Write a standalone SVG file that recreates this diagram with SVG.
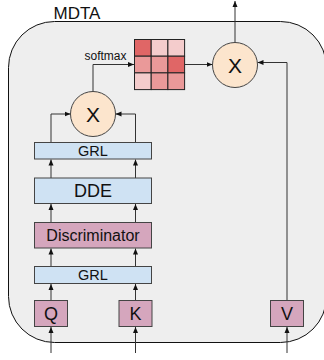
<svg xmlns="http://www.w3.org/2000/svg" width="324" height="360" viewBox="0 0 324 360">
<style>
text{font-family:"Liberation Sans",Arial,sans-serif;fill:#111;text-anchor:middle}
.box{stroke:#444;stroke-width:1}
.blue{fill:#cfe2f3}
.pink{fill:#d5a6bd}
.circ{fill:#fce5cd;stroke:#444;stroke-width:1}
.conn path{fill:none;stroke:#333;stroke-width:1}
.cell{stroke:#222;stroke-width:1}
.d{fill:#e06666}.m{fill:#ea9999}.l{fill:#f4cccc}
</style>
<defs>
<marker id="ah" markerUnits="userSpaceOnUse" markerWidth="7" markerHeight="6" refX="6" refY="3" orient="auto">
<path d="M0,0.5 L6,3 L0,5.5 z" fill="#111"/>
</marker>
</defs>
<g id="mdta">
<rect x="8.5" y="21.5" width="318" height="321" rx="46" ry="46" fill="#eeeeee" stroke="#111" stroke-width="1"/>
<text x="77" y="18.5" font-size="17">MDTA</text>
</g>
<g class="conn">
<path d="M51 353 V327" marker-end="url(#ah)"/>
<path d="M135.5 353 V327" marker-end="url(#ah)"/>
<path d="M287 353 V327" marker-end="url(#ah)"/>
<path d="M51 300.5 V284" marker-end="url(#ah)"/>
<path d="M135.5 300.5 V284" marker-end="url(#ah)"/>
<path d="M51 266.5 V248.5" marker-end="url(#ah)"/>
<path d="M135.5 266.5 V248.5" marker-end="url(#ah)"/>
<path d="M51 222.5 V204" marker-end="url(#ah)"/>
<path d="M135.5 222.5 V204" marker-end="url(#ah)"/>
<path d="M51 178 V159.5" marker-end="url(#ah)"/>
<path d="M135.5 178 V159.5" marker-end="url(#ah)"/>
<path d="M51 142.5 V114 H70.5" marker-end="url(#ah)"/>
<path d="M135.5 142.5 V114 H115.5" marker-end="url(#ah)"/>
<path d="M93 91.5 V64.5 H134" marker-end="url(#ah)"/>
<path d="M185 64.5 H212.5" marker-end="url(#ah)"/>
<path d="M287 300.5 V62.5 H257.5" marker-end="url(#ah)"/>
<path d="M235 42.5 V1" marker-end="url(#ah)"/>
<text x="105.5" y="59.5" font-size="12">softmax</text>
</g>
<g id="softmax-matrix">
<rect class="cell d" x="134.5" y="39.5" width="16.7" height="16.7"/>
<rect class="cell l" x="151.2" y="39.5" width="16.7" height="16.7"/>
<rect class="cell l" x="167.9" y="39.5" width="16.7" height="16.7"/>
<rect class="cell m" x="134.5" y="56.2" width="16.7" height="16.7"/>
<rect class="cell m" x="151.2" y="56.2" width="16.7" height="16.7"/>
<rect class="cell d" x="167.9" y="56.2" width="16.7" height="16.7"/>
<rect class="cell l" x="134.5" y="72.9" width="16.7" height="16.7"/>
<rect class="cell m" x="151.2" y="72.9" width="16.7" height="16.7"/>
<rect class="cell m" x="167.9" y="72.9" width="16.7" height="16.7"/>
</g>
<g id="mul-out">
<circle class="circ" cx="235" cy="65" r="22.5"/>
<text x="235" y="72.5" font-size="21">X</text>
</g>
<g id="mul-qk">
<circle class="circ" cx="93" cy="114" r="22.5"/>
<text x="93" y="121.5" font-size="21">X</text>
</g>
<g id="grl-top">
<rect class="box blue" x="34.5" y="142.5" width="117" height="16.5"/>
<text x="93" y="156" font-size="14.5">GRL</text>
</g>
<g id="dde">
<rect class="box blue" x="34.5" y="178" width="117" height="25.5"/>
<text x="93" y="197.3" font-size="18">DDE</text>
</g>
<g id="discriminator">
<rect class="box pink" x="34.5" y="222.5" width="117" height="25.5"/>
<text x="93" y="241" font-size="16">Discriminator</text>
</g>
<g id="grl-bottom">
<rect class="box blue" x="34.5" y="266.5" width="117" height="17"/>
<text x="93" y="280.3" font-size="14.5">GRL</text>
</g>
<g id="q">
<rect class="box pink" x="34.5" y="300.5" width="33" height="26"/>
<text x="51" y="320" font-size="18">Q</text>
</g>
<g id="k">
<rect class="box pink" x="119" y="300.5" width="33" height="26"/>
<text x="135.5" y="320" font-size="18">K</text>
</g>
<g id="v">
<rect class="box pink" x="270.5" y="300.5" width="33" height="26"/>
<text x="287" y="320" font-size="18">V</text>
</g>
</svg>
